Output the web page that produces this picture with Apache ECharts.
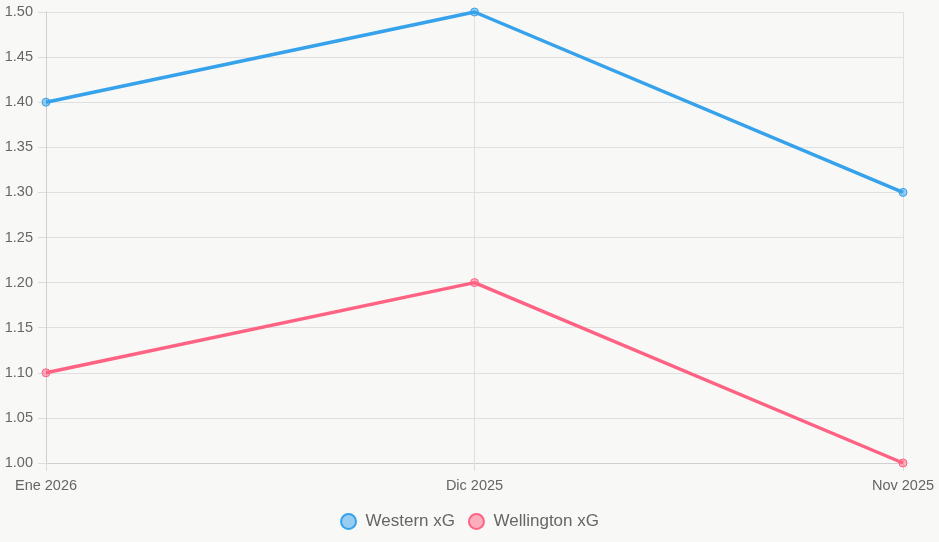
<!DOCTYPE html>
<html>
<head>
<meta charset="utf-8">
<script src="https://cdn.jsdelivr.net/npm/echarts@6/dist/echarts.min.js"></script>
<style>
html,body{margin:0;padding:0;background:#f8f8f6;}
#chart{width:939px;height:542px;}
</style>
</head>
<body>
<div id="chart"></div>
<script>
var categories = ["Ene 2026", "Dic 2025", "Nov 2025"];
var westernXG = [1.4, 1.5, 1.3];
var wellingtonXG = [1.1, 1.2, 1.0];
var seriesNames = ["Western xG", "Wellington xG"];

var chart = echarts.init(document.getElementById('chart'), null, {renderer: 'canvas'});
var font = '"Liberation Sans", Arial, sans-serif';
chart.setOption({
  backgroundColor: '#f8f8f6',
  animation: false,
  grid: {left: 46, right: 36, top: 12, bottom: 79, containLabel: false},
  legend: {
    bottom: 7,
    left: 'center',
    icon: 'circle',
    itemWidth: 16,
    itemHeight: 15,
    itemGap: 13,
    textStyle: {color: '#666', fontSize: 17, fontFamily: font, padding: [0, 0, 0, 4]},
    data: seriesNames
  },
  xAxis: {
    type: 'category',
    data: categories,
    boundaryGap: false,
    axisLine: {show: true, lineStyle: {color: '#cfcfcf'}},
    axisTick: {show: true, length: 8, alignWithLabel: true, lineStyle: {color: '#ddd'}},
    axisLabel: {color: '#666', fontSize: 14.5, fontFamily: font, margin: 15},
    splitLine: {show: true, lineStyle: {color: '#e0e0e0'}}
  },
  yAxis: {
    type: 'value',
    min: 1.0,
    max: 1.5,
    interval: 0.05,
    axisLine: {show: true, lineStyle: {color: '#cfcfcf'}},
    axisTick: {show: true, length: 8, lineStyle: {color: '#ddd'}},
    axisLabel: {color: '#666', fontSize: 14.5, fontFamily: font, margin: 13,
      formatter: function(v){ return v.toFixed(2); }},
    splitLine: {show: true, lineStyle: {color: '#e0e0e0'}}
  },
  series: [
    {
      name: seriesNames[0],
      type: 'line',
      data: westernXG,
      symbol: 'circle',
      symbolSize: 8,
      lineStyle: {color: '#36A2EB', width: 3.5},
      itemStyle: {color: 'rgba(54,162,235,0.5)', borderColor: '#36A2EB', borderWidth: 1}
    },
    {
      name: seriesNames[1],
      type: 'line',
      data: wellingtonXG,
      symbol: 'circle',
      symbolSize: 8,
      lineStyle: {color: '#FF6384', width: 3.5},
      itemStyle: {color: 'rgba(255,99,132,0.5)', borderColor: '#FF6384', borderWidth: 1}
    }
  ]
});
</script>
</body>
</html>
